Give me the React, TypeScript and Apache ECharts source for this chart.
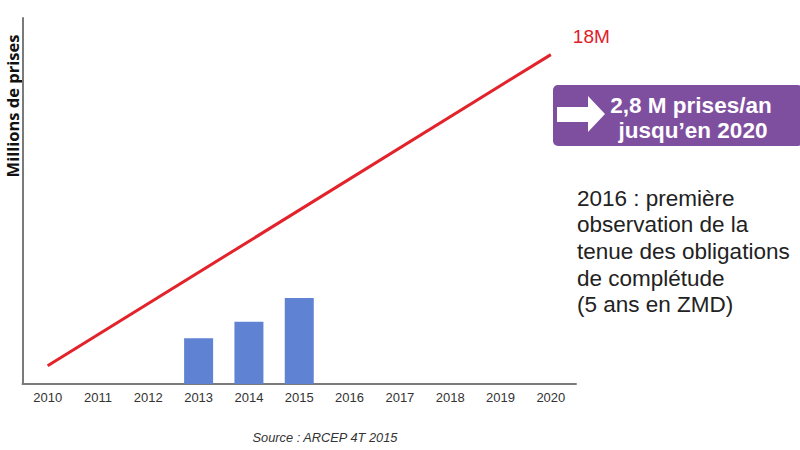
import React, { useEffect, useRef } from "react";
import * as echarts from "echarts";

const years = ["2010", "2011", "2012", "2013", "2014", "2015", "2016", "2017", "2018", "2019", "2020"];
const barValues = [null, null, null, 2.5, 3.4, 4.7, null, null, null, null, null];
const targetLine = [1, null, null, null, null, null, null, null, null, null, 18];
const targetLabel = "18M";
const yAxisTitle = "Millions de prises";
const boxLines = ["2,8 M prises/an", "jusqu\u2019en 2020"];
const noteLines = [
  "2016 : premi\u00e8re",
  "observation de la",
  "tenue des obligations",
  "de compl\u00e9tude",
  "(5 ans en ZMD)",
];
const sourceText = "Source : ARCEP 4T 2015";

const ARIAL = "Liberation Sans, Arial, sans-serif";

export default function App() {
  const ref = useRef<HTMLDivElement>(null);
  useEffect(() => {
    if (!ref.current) return;
    const chart = echarts.init(ref.current, null, { renderer: "svg" });
    chart.setOption({
      animation: false,
      backgroundColor: "#ffffff",
      grid: { left: 22.5, right: 224, top: 18, bottom: 66, containLabel: false },
      xAxis: {
        type: "category",
        data: years,
        boundaryGap: true,
        axisLine: { show: true, lineStyle: { color: "#7a7a7a", width: 2 } },
        axisTick: { show: false },
        axisLabel: {
          color: "#333",
          fontSize: 13,
          margin: 7,
          fontFamily: ARIAL,
        },
      },
      yAxis: {
        type: "value",
        min: 0,
        max: 20,
        axisLine: { show: true, lineStyle: { color: "#7a7a7a", width: 2 } },
        axisTick: { show: false },
        axisLabel: { show: false },
        splitLine: { show: false },
      },
      series: [
        {
          type: "bar",
          data: barValues,
          barWidth: 29,
          itemStyle: { color: "#5f82d3" },
        },
        {
          type: "line",
          data: targetLine,
          connectNulls: true,
          showSymbol: false,
          symbol: "none",
          lineStyle: { color: "#e3232b", width: 3 },
          endLabel: {
            show: true,
            formatter: targetLabel,
            offset: [14, -18],
            color: "#e0202a",
            fontSize: 19,
            fontFamily: ARIAL,
          },
          z: 5,
        },
      ],
      graphic: [
        {
          type: "text",
          x: 12,
          y: 106,
          rotation: Math.PI / 2,
          style: {
            text: yAxisTitle,
            fill: "#111",
            fontSize: 16.5,
            lineHeight: 18,
            fontWeight: "bold",
            fontFamily: "Open Sans, sans-serif",
            textAlign: "center",
            textVerticalAlign: "middle",
          },
        },
        {
          type: "rect",
          shape: { x: 553, y: 85, width: 250, height: 61, r: 5 },
          style: { fill: "#7f4f9f" },
        },
        {
          type: "polygon",
          shape: {
            points: [
              [557, 107],
              [588, 107],
              [588, 96],
              [605, 114],
              [588, 132],
              [588, 122],
              [557, 122],
            ],
          },
          style: { fill: "#ffffff" },
        },
        {
          type: "text",
          x: 691,
          y: 105,
          style: {
            text: boxLines[0],
            fill: "#ffffff",
            fontSize: 22.5,
            fontWeight: "bold",
            fontFamily: ARIAL,
            textAlign: "center",
            textVerticalAlign: "middle",
          },
        },
        {
          type: "text",
          x: 693,
          y: 130,
          style: {
            text: boxLines[1],
            fill: "#ffffff",
            fontSize: 22.5,
            fontWeight: "bold",
            fontFamily: ARIAL,
            textAlign: "center",
            textVerticalAlign: "middle",
          },
        },
        ...noteLines.map((t, i) => ({
          type: "text",
          x: 577,
          y: 198 + i * 26.7,
          style: {
            text: t,
            fill: "#222",
            fontSize: 22.5,
            fontFamily: ARIAL,
            textAlign: "left",
            textVerticalAlign: "middle",
          },
        })),
        {
          type: "text",
          x: 325,
          y: 437,
          style: {
            text: sourceText,
            fill: "#333",
            fontSize: 12.8,
            fontStyle: "italic",
            fontFamily: ARIAL,
            textAlign: "center",
            textVerticalAlign: "middle",
          },
        },
      ],
    });
    return () => chart.dispose();
  }, []);
  return <div ref={ref} style={{ width: 800, height: 450, position: "fixed", left: 0, top: 0 }} />;
}
